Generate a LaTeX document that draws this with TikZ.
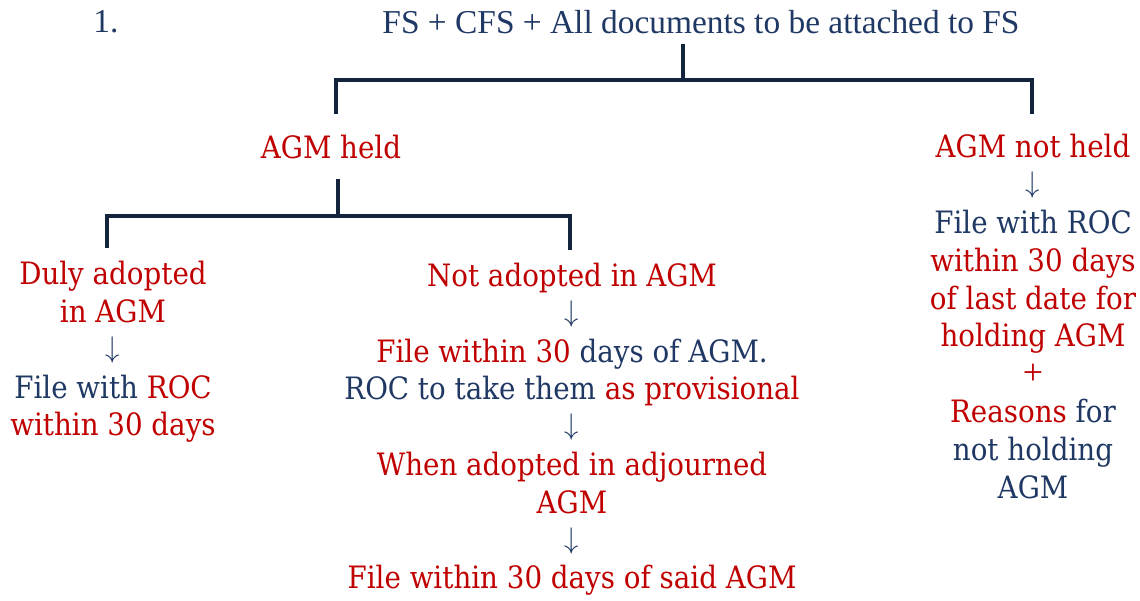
\documentclass[tikz,border=0pt]{standalone}
\usepackage{fontspec}
\setmainfont{DejaVu Serif}[FakeStretch=0.9]
\newfontfamily\hdfont{Liberation Serif}
\definecolor{myred}{RGB}{192,0,0}
\definecolor{mynavy}{RGB}{31,56,100}
\definecolor{myline}{RGB}{20,36,60}
\newcommand\Rd[1]{\textcolor{myred}{#1}}
\newcommand\dnarrow{\raisebox{0.1em}{\scalebox{1.15}[1.2]{$\downarrow$}}}
\tikzset{
  txt/.style={inner sep=0pt, align=center, text=mynavy, font=\fontsize{30.8}{37.8}\selectfont},
  hdtxt/.style={inner sep=0pt, text=mynavy, font=\hdfont\fontsize{33.4}{38}\selectfont},
  br/.style={draw=myline, line width=4.5pt, line join=miter, line cap=rect}
}
\begin{document}
\begin{tikzpicture}[x=1pt,y=-1pt]
\useasboundingbox (0,0) rectangle (1140,601);
\node[hdtxt] (num) at (106,22) {1.};
\node[hdtxt] (hd) at (701,22) {FS + CFS + All documents to be attached to FS};
\node[txt] (held) at (331,147) {\Rd{AGM held}};
\node[txt] (nh) at (1033,316.5) {\Rd{AGM not held}\\
  \dnarrow\\
  File with ROC\\
  \Rd{within 30 days}\\
  \Rd{of last date for}\\
  \Rd{holding AGM}\\
  \Rd{\hdfont\fontsize{36}{37.8}\selectfont +}\\
  \Rd{Reasons} for\\
  not holding\\
  AGM};
\node[txt] (duly) at (113,352) {\Rd{Duly adopted}\\
  \Rd{in AGM}\\
  \dnarrow\\
  File with \Rd{ROC}\\
  \Rd{within 30 days}};
\node[txt] (nad) at (572,429.5) {\Rd{Not adopted in AGM}\\
  \dnarrow\\
  \Rd{File within 30} days of AGM.\\
  ROC to take them \Rd{as provisional}\\
  \dnarrow\\
  \Rd{When adopted in adjourned}\\
  \Rd{AGM}\\
  \dnarrow\\
  \Rd{File within 30 days of said AGM}};
\coordinate (j1) at (683,80);
\coordinate (jl) at (336,80);
\coordinate (jr) at (1032,80);
\coordinate (j2) at (338,216);
\coordinate (jl2) at (107,216);
\coordinate (jr2) at (570,216);
\draw[br] ([yshift=-12pt]j1 |- hd.south) -- (j1);
\draw[br] ([yshift=23pt]jl |- held.north) -- (jl) -- (jr) -- ([yshift=23pt]jr |- nh.north);
\draw[br] ([yshift=-22pt]j2 |- held.south) -- (j2);
\draw[br] ([yshift=15pt]jl2 |- duly.north) -- (jl2) -- (jr2) -- ([yshift=15pt]jr2 |- nad.north);
\end{tikzpicture}
\end{document}
